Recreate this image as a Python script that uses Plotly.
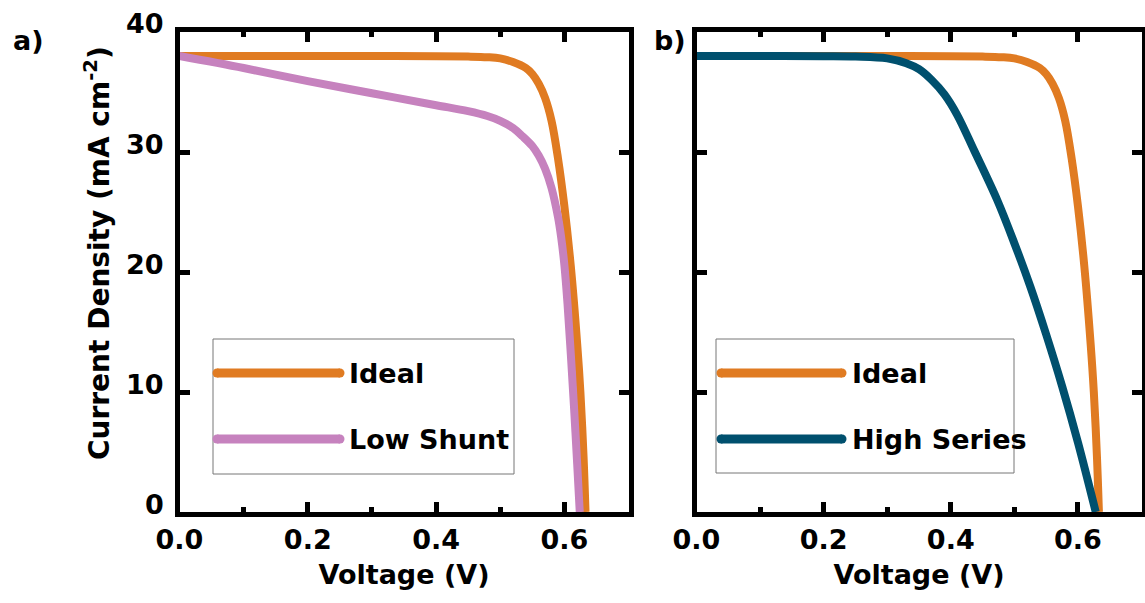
import plotly.graph_objects as go

# J-V curves (voltage in V, current density in mA cm^-2)
ideal_v = [0.0, 0.1, 0.2, 0.3, 0.4, 0.45, 0.48, 0.50, 0.52, 0.54, 0.55, 0.56,
           0.57, 0.58, 0.59, 0.60, 0.61, 0.62, 0.625, 0.63, 0.633]
ideal_j = [38.0, 38.0, 38.0, 38.0, 37.98, 37.95, 37.9, 37.8, 37.5, 37.0, 36.5, 35.7,
           34.5, 32.6, 29.5, 25.5, 20.5, 14.0, 10.0, 4.5, 0.0]

shunt_v = [0.0, 0.1, 0.2, 0.3, 0.4, 0.45, 0.48, 0.50, 0.52, 0.535, 0.55, 0.56, 0.57,
           0.58, 0.59, 0.595, 0.60, 0.605, 0.61, 0.615, 0.62, 0.624]
shunt_j = [38.0, 37.0, 35.9, 34.9, 33.9, 33.4, 33.0, 32.6, 32.0, 31.3, 30.5, 29.7, 28.6,
           27.0, 24.6, 22.9, 20.6, 17.3, 13.2, 8.8, 4.0, 0.0]

series_v = [0.0, 0.1, 0.2, 0.25, 0.30, 0.33, 0.35, 0.37, 0.39, 0.41, 0.437, 0.473,
            0.50, 0.525, 0.55, 0.575, 0.60, 0.628]
series_j = [38.0, 38.0, 37.98, 37.95, 37.8, 37.4, 36.9, 36.0, 34.8, 33.1, 30.1, 26.0,
            22.4, 18.8, 14.8, 10.5, 5.8, 0.0]

x_ticks = [0.0, 0.2, 0.4, 0.6]
y_ticks = [0, 10, 20, 30, 40]

ORANGE = "#E07B22"
PINK = "#C682BE"
TEAL = "#00506E"
FONT = "DejaVu Sans"

W, H = 1145, 603


def px(x):
    return x / W


def py(y):
    return 1 - y / H


def curve(xs, ys, color, name, xa, ya):
    return go.Scatter(x=xs, y=ys, mode="lines", name=name,
                      line=dict(color=color, width=8, shape="spline", smoothing=1.0),
                      xaxis=xa, yaxis=ya)


fig = go.Figure()
fig.add_trace(curve(ideal_v, ideal_j, ORANGE, "Ideal", "x", "y"))
fig.add_trace(curve(shunt_v, shunt_j, PINK, "Low Shunt", "x", "y"))
fig.add_trace(curve(ideal_v, ideal_j, ORANGE, "Ideal", "x2", "y2"))
fig.add_trace(curve(series_v, series_j, TEAL, "High Series", "x2", "y2"))

tick_font = dict(family=FONT, size=27, color="black", weight="bold")
title_font = dict(family=FONT, size=27, color="black", weight="bold")

axis_common = dict(showline=True, linewidth=5, linecolor="black", mirror="ticks",
                   ticks="inside", ticklen=10, tickwidth=5, tickcolor="black",
                   showgrid=False, zeroline=False, tickfont=tick_font, automargin=False)

x_common = dict(axis_common, range=[0, 0.7], tickvals=x_ticks, tickformat=".1f",
                minor=dict(ticks="inside", ticklen=5, tickwidth=5, tickcolor="black",
                           dtick=0.1, tick0=0, showgrid=False),
                title=dict(text="Voltage (V)", font=title_font, standoff=12))

y_dom = [py(512), py(32)]

fig.update_layout(
    width=W, height=H,
    margin=dict(l=0, r=0, t=0, b=0, autoexpand=False),
    paper_bgcolor="white", plot_bgcolor="white",
    showlegend=False,
    xaxis=dict(x_common, domain=[px(179.5), px(628.5)], anchor="y"),
    xaxis2=dict(x_common, domain=[px(696.5), px(1141.5)], anchor="y2"),
    yaxis=dict(axis_common, range=[0, 40], tickvals=y_ticks, domain=y_dom, anchor="x",
               showticklabels=False),
    yaxis2=dict(axis_common, range=[0, 40], tickvals=y_ticks, domain=y_dom, anchor="x2",
                showticklabels=False),
)

# y tick labels, sitting slightly above their ticks
for val in y_ticks:
    fig.add_annotation(text=str(val), x=px(166), y=val, xref="paper", yref="y",
                       yshift=8, showarrow=False, font=tick_font,
                       xanchor="right", yanchor="middle")

# y-axis title
fig.add_annotation(text="Current Density (mA cm<sup>-2</sup>)", x=px(97), y=py(253),
                   xref="paper", yref="paper", textangle=-90, showarrow=False,
                   font=dict(title_font, size=28), xanchor="center", yanchor="middle")

# panel labels
for label, xpos in [("a)", 28), ("b)", 670)]:
    fig.add_annotation(text=label, x=px(xpos), y=py(40), xref="paper", yref="paper",
                       showarrow=False, font=title_font, xanchor="center", yanchor="middle")

# legend boxes drawn per panel
legends = [
    dict(box=(213, 339, 514, 474), line_x=(217, 340), text_x=347,
         items=[("Ideal", ORANGE), ("Low Shunt", PINK)]),
    dict(box=(716, 339, 1014, 473), line_x=(721, 842), text_x=850,
         items=[("Ideal", ORANGE), ("High Series", TEAL)]),
]
item_y = [373, 439]
for lg in legends:
    x0, y0, x1, y1 = lg["box"]
    fig.add_shape(type="rect", xref="paper", yref="paper",
                  x0=px(x0), x1=px(x1), y0=py(y0), y1=py(y1),
                  line=dict(color="#777777", width=1), fillcolor="white", layer="below")
    for (name, color), yy in zip(lg["items"], item_y):
        fig.add_shape(type="line", xref="paper", yref="paper",
                      x0=px(lg["line_x"][0]), x1=px(lg["line_x"][1]), y0=py(yy), y1=py(yy),
                      line=dict(color=color, width=9))
        for cap_x in lg["line_x"]:
            fig.add_shape(type="circle", xref="paper", yref="paper",
                          x0=px(cap_x - 4.5), x1=px(cap_x + 4.5),
                          y0=py(yy + 4.5), y1=py(yy - 4.5),
                          line=dict(width=0), fillcolor=color)
        fig.add_annotation(text=name, x=px(lg["text_x"]), y=py(yy), xref="paper", yref="paper",
                           showarrow=False, font=title_font, xanchor="left", yanchor="middle")

fig.write_html("out.html")
